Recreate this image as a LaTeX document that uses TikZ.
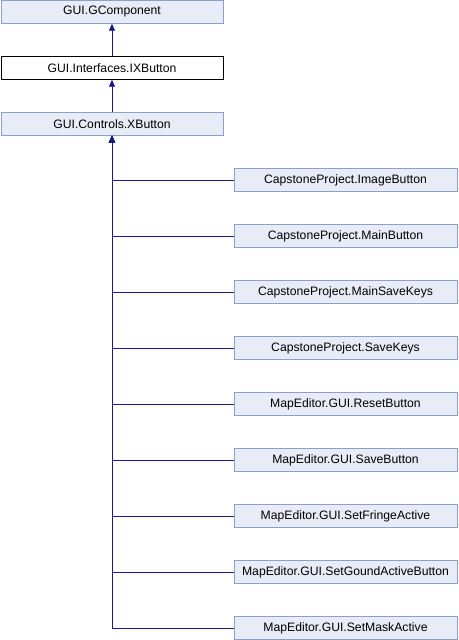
\documentclass[tikz,border=0pt]{standalone}
\usepackage{fontspec}
\setmainfont{Liberation Sans}
\usetikzlibrary{arrows.meta}

\definecolor{boxfill}{RGB}{232,236,246}
\definecolor{boxline}{RGB}{140,160,204}
\definecolor{edgeblue}{RGB}{25,25,140}

\begin{document}
\begin{tikzpicture}[x=1pt, y=-1pt,
		cls/.style={draw=boxline, fill=boxfill, minimum height=23pt, inner sep=0pt, font=\fontsize{12.2}{14}\selectfont},
		leftcls/.style={cls, minimum width=222pt},
		rightcls/.style={cls, minimum width=223pt},
		edge/.style={draw=edgeblue, line width=0.9pt, -{Triangle[length=7pt, width=6pt]}}]
		% Bounding box
		\useasboundingbox (0,0) rectangle (458,640);
		
		% Base classes
		\node[leftcls] (gcomp) at (112, 12) {GUI.GComponent};
		\node[leftcls, draw=black, fill=white] (ixbtn) at (112, 68) {GUI.Interfaces.IXButton};
		\node[leftcls] (xbtn) at (112, 124) {GUI.Controls.XButton};
		
		\draw[edge] (ixbtn) -- (gcomp);
		\draw[edge] (xbtn) -- (ixbtn);
		
		% Derived classes
		\foreach \i/\name in {1/CapstoneProject.ImageButton, 2/CapstoneProject.MainButton, 3/CapstoneProject.MainSaveKeys, 4/CapstoneProject.SaveKeys, 5/MapEditor.GUI.ResetButton, 6/MapEditor.GUI.SaveButton, 7/MapEditor.GUI.SetFringeActive, 8/MapEditor.GUI.SetGoundActiveButton, 9/MapEditor.GUI.SetMaskActive}
		{
			\node[rightcls] (c\i) at (345.5, 124+56*\i) {\name};
			\draw[edge] (c\i.west) -| (xbtn.south);
		}
\end{tikzpicture}
\end{document}
